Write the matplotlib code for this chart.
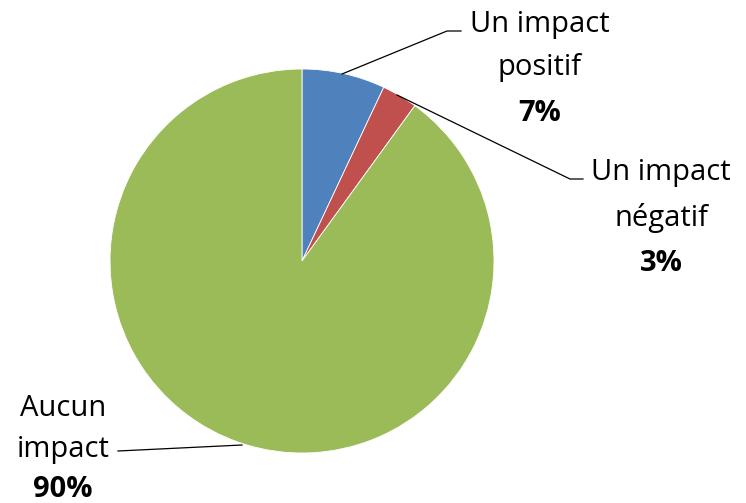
import matplotlib
matplotlib.use("Agg")
import matplotlib.pyplot as plt

categories = ["Un impact\npositif", "Un impact\nnégatif", "Aucun\nimpact"]
values = [7, 3, 90]
colors = ["#4F81BD", "#C0504D", "#9BBB59"]

W, H = 746, 503
fig = plt.figure(figsize=(W/100, H/100), dpi=100)
ax = fig.add_axes([0, 0, 1, 1])

cx, cy, r = 302, 261, 192
# y axis is inverted below, so startangle=-90 points up on screen and
# counterclock in data coordinates runs clockwise on screen
wedges, _ = ax.pie(values, colors=colors, startangle=-90, counterclock=True,
                   center=(cx, cy), radius=r, frame=True,
                   wedgeprops=dict(edgecolor="white", linewidth=0.6))
ax.set_xlim(0, W)
ax.set_ylim(H, 0)
ax.set_aspect("equal")
ax.axis("off")

font = "Open Sans"
fs = 21
label_x = [540, 661, 63]
baselines = [[32, 75, 121], [180, 226, 271], [416, 457, 497]]
lines = [[(342, 74), (447, 31), (461, 31)],
         [(397, 95), (570, 179), (583, 179)],
         [(242, 445), (118, 451)]]
for cat, v, lx, bl, ln in zip(categories, values, label_x, baselines, lines):
    parts = cat.split("\n")
    for t, y in zip(parts, bl[:-1]):
        ax.text(lx, y, t, ha="center", va="baseline", fontsize=fs,
                family=font, color="black")
    ax.text(lx, bl[-1], f"{v}%", ha="center", va="baseline", fontsize=fs,
            family=font, fontweight="bold", color="black")
    xs, ys = zip(*ln)
    ax.plot(xs, ys, color="black", lw=0.9)

fig.savefig("out.png", dpi=100)
